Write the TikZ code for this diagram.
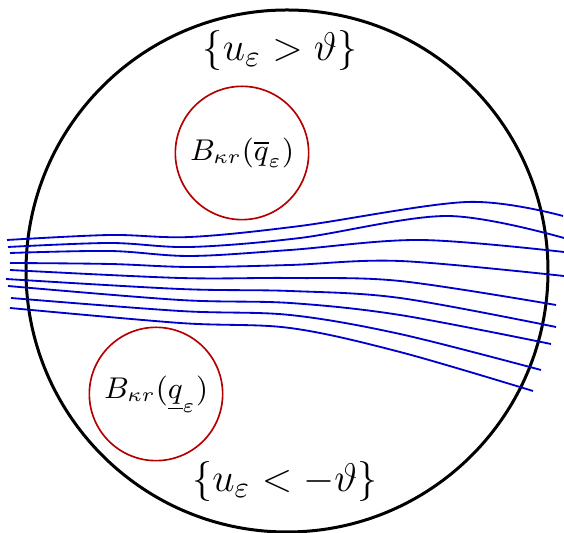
\documentclass[tikz,border=0pt]{standalone}
\usepackage{amsmath,amssymb}
\usepackage{tikz}
\usepackage{xcolor}
\definecolor{cbleu}{RGB}{0,0,205}
\definecolor{crouge}{RGB}{180,0,0}

\begin{document}
\begin{tikzpicture}[x=0.3pt, y=-0.3pt,
  boule/.style={draw=crouge, line width=0.5pt, circle, minimum size=40pt, inner sep=0pt,
    font=\fontsize{9.2}{11}\selectfont},
  ensemble/.style={font=\fontsize{13}{15}\selectfont},
  ligne/.style={cbleu, line width=0.55pt}]
\useasboundingbox (0,0) rectangle (564,533);
\node[draw, circle, line width=0.9pt, minimum size=156.6pt, inner sep=0pt] (disque) at (287,271) {};
% les deux boules
\node[boule] (bhaut) at (242,153) {$B_{\kappa r}(\overline{q}_\varepsilon)$};
\node[boule] (bbas) at (156,394) {$B_{\kappa r}(\underline{q}_\varepsilon)$};
% ensembles de niveau
\node[ensemble] (sup) at (280,51) {$\{u_\varepsilon > \vartheta\}$};
\node[ensemble] (inf) at (285,482) {$\{u_\varepsilon < -\vartheta\}$};
% lignes de niveau
\draw[ligne] plot[smooth, tension=0.55] coordinates {(7,240) (110,235) (190,237) (300,226) (467,202) (563,216)};
\draw[ligne] plot[smooth, tension=0.55] coordinates {(8,247) (110,243) (190,247) (300,238) (447,216) (564,238)};
\draw[ligne] plot[smooth, tension=0.55] coordinates {(10,253) (110,251) (190,256) (290,250) (420,240) (564,252)};
\draw[ligne] plot[smooth, tension=0.55] coordinates {(10,263) (110,264) (190,267) (290,265) (400,261) (564,276)};
\draw[ligne] plot[smooth, tension=0.55] coordinates {(10,270) (180,278) (290,278) (400,281) (556,305)};
\draw[ligne] plot[smooth, tension=0.55] coordinates {(6,279) (180,289) (290,291) (400,298) (556,327)};
\draw[ligne] plot[smooth, tension=0.55] coordinates {(8,286) (180,300) (290,303) (400,315) (551,344)};
\draw[ligne] plot[smooth, tension=0.55] coordinates {(11,298) (180,311) (290,315) (400,334) (541,370)};
\draw[ligne] plot[smooth, tension=0.55] coordinates {(10,308) (180,323) (290,328) (400,352) (533,391)};
\end{tikzpicture}
\end{document}
